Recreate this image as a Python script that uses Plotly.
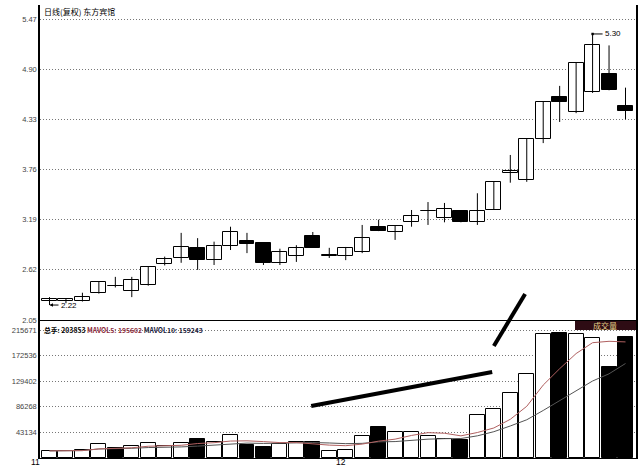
import plotly.graph_objects as go
import pandas as pd

# ---- data ----
opens  = [2.27, 2.27, 2.27, 2.36, 2.44, 2.38, 2.45, 2.69, 2.75, 2.87,
          2.73, 2.89, 2.95, 2.92, 2.70, 2.78, 3.00, 2.78, 2.78, 2.82,
          3.105, 3.05, 3.16, 3.285, 3.21, 3.29, 3.16, 3.30, 3.72, 3.64,
          4.106, 4.58, 4.41, 4.64, 4.845, 4.485]
highs  = [2.31, 2.30, 2.36, 2.49, 2.54, 2.54, 2.66, 2.77, 3.04, 2.98,
          2.94, 3.11, 3.04, 2.92, 2.86, 2.90, 3.05, 2.87, 2.88, 3.13,
          3.19, 3.12, 3.30, 3.39, 3.38, 3.29, 3.49, 3.62, 3.925, 4.11,
          4.53, 4.71, 4.97, 5.30, 5.17, 4.69]
lows   = [2.22, 2.24, 2.26, 2.35, 2.42, 2.31, 2.44, 2.67, 2.70, 2.62,
          2.675, 2.845, 2.81, 2.675, 2.675, 2.71, 2.87, 2.755, 2.73, 2.81,
          3.06, 2.96, 3.11, 3.13, 3.16, 3.16, 3.13, 3.30, 3.61, 3.62,
          4.06, 4.30, 4.40, 4.63, 4.66, 4.33]
closes = [2.29, 2.29, 2.31, 2.48, 2.435, 2.51, 2.65, 2.74, 2.88, 2.73,
          2.89, 3.05, 2.91, 2.70, 2.82, 2.87, 2.87, 2.785, 2.87, 2.98,
          3.06, 3.12, 3.23, 3.29, 3.31, 3.16, 3.29, 3.62, 3.74, 4.106,
          4.527, 4.53, 4.97, 5.175, 4.66, 4.425]
volumes = [12000, 12000, 13500, 23600, 17000, 20000, 25000, 20000, 25000, 32000,
           27000, 38700, 22000, 18500, 23600, 27000, 27000, 12500, 13500, 37000,
           52000, 43800, 43800, 37000, 32000, 30000, 72000, 82000, 110000, 141500,
           208920, 210000, 209500, 201500, 153157, 203853]

price_ticks = [5.47, 4.90, 4.33, 3.76, 3.19, 2.62, 2.05]
vol_ticks = [215671, 172536, 129402, 86268, 43134]
month_labels = ["11", "12"]
month_tick_pos = [-0.88, 17.7]

title_text = "日线(复权) 东方宾馆"
legend_total = "总手: 203853"
legend_ma5 = "MAVOL5: 195602"
legend_ma10 = "MAVOL10: 159243"
high_label = "5.30"
low_label = "2.22"

# ---- derived ----
n = len(opens)
idx = list(range(n))
ma5 = pd.Series(volumes).rolling(5, min_periods=1).mean().tolist()
ma10 = pd.Series(volumes).rolling(10, min_periods=1).mean().tolist()
up = [c >= o for o, c in zip(opens, closes)]
fill = ['white' if u else 'black' for u in up]
body_base = [min(o, c) for o, c in zip(opens, closes)]
body_h = [max(abs(c - o), 0.004) for o, c in zip(opens, closes)]

wx, wy = [], []
for i, (h, l) in enumerate(zip(highs, lows)):
    wx += [i, i, None]
    wy += [h, l, None]

W = 640; H = 468
ml, mr, mt, mb = 40, 4, 5, 10
ph = H - mt - mb
split = (H - mb - 320) / ph

fig = go.Figure()
fig.add_trace(go.Scatter(x=wx, y=wy, mode='lines', line=dict(color='black', width=1),
                         xaxis='x', yaxis='y', hoverinfo='skip', showlegend=False))
fig.add_trace(go.Bar(x=idx, y=body_h, base=body_base, width=0.91,
                     marker=dict(color=fill, line=dict(color='black', width=1)),
                     xaxis='x', yaxis='y', showlegend=False))
fig.add_trace(go.Bar(x=idx, y=volumes, width=0.91,
                     marker=dict(color=fill, line=dict(color='black', width=1)),
                     xaxis='x2', yaxis='y2', showlegend=False))
fig.add_trace(go.Scatter(x=idx, y=ma10, mode='lines', line=dict(color='#555555', width=1),
                         xaxis='x2', yaxis='y2', showlegend=False))
fig.add_trace(go.Scatter(x=idx, y=ma5, mode='lines', line=dict(color='#b06060', width=1),
                         xaxis='x2', yaxis='y2', showlegend=False))

step = 16.457
xr = [-9.5 / step, -9.5 / step + (W - ml - mr) / step]

grid_dash = '1px,2px'
tickfont = dict(family='Liberation Sans, Arial', size=7.5, color='#444444')
fig.update_layout(
    width=W, height=H, margin=dict(l=ml, r=mr, t=mt, b=mb, autoexpand=False),
    paper_bgcolor='white', plot_bgcolor='white', barmode='overlay', bargap=0,
    xaxis=dict(domain=[0, 1], range=xr, anchor='y', showticklabels=False, showgrid=False,
               zeroline=False, showline=True, linecolor='black', linewidth=1, automargin=False),
    xaxis2=dict(domain=[0, 1], range=xr, anchor='y2', matches='x', showgrid=False,
                zeroline=False, showline=True, linecolor='black', linewidth=1,
                showticklabels=False, automargin=False),
    yaxis=dict(domain=[split, 1], range=[2.05, 5.47 + 14 / 88.01], anchor='x',
               tickvals=price_ticks, ticktext=['%.2f' % v for v in price_ticks],
               showgrid=True, gridcolor='#777777', griddash=grid_dash, gridwidth=1,
               zeroline=False, showline=True, mirror=True, linecolor='black', linewidth=1.5,
               ticks='', tickfont=tickfont, automargin=False),
    yaxis2=dict(domain=[0, split], range=[0, 215671 / 128 * 138], anchor='x2',
                tickvals=vol_ticks, ticktext=[str(v) for v in vol_ticks],
                showgrid=True, gridcolor='#777777', griddash=grid_dash, gridwidth=1,
                zeroline=False, showline=True, mirror=True, linecolor='black', linewidth=1.5,
                ticks='', tickfont=tickfont, automargin=False),
)

def py(pix):
    return (H - mb - pix) / ph

def pxpaper(xval):
    return (xval - xr[0]) / (xr[1] - xr[0])

annotations = [
    dict(text=title_text, xref='paper', yref='paper', x=0.003, y=py(12), xanchor='left',
         yanchor='middle', showarrow=False,
         font=dict(family='Noto Sans CJK SC', size=8, color='black')),
    dict(text='<b>' + legend_total + ' <span style="color:#8b2a3a">' + legend_ma5 +
              '</span> <span style="color:#1a1a3a">' + legend_ma10 + '</span></b>',
         xref='paper', yref='paper', x=0.003, y=py(330), xanchor='left', yanchor='middle',
         showarrow=False, font=dict(family='Noto Sans CJK SC', size=6.8, color='black')),
    dict(text='成交量', xref='paper', yref='paper', x=(605 - ml) / (W - ml - mr), y=py(325.5),
         xanchor='center', yanchor='middle', showarrow=False,
         font=dict(family='Noto Sans CJK SC', size=8, color='#e6d28a')),
    dict(text=high_label, x=33, y=highs[33], xref='x', yref='y', showarrow=True,
         arrowhead=7, arrowsize=0.6, arrowwidth=1, arrowcolor='black', ax=10, ay=0,
         xanchor='left', yanchor='middle',
         font=dict(family='Liberation Sans, Arial', size=8, color='black')),
    dict(text=low_label, x=0, y=lows[0], xref='x', yref='y', showarrow=True,
         arrowhead=2, arrowsize=0.7, arrowwidth=1, arrowcolor='black', ax=9, ay=0,
         xanchor='left', yanchor='middle',
         font=dict(family='Liberation Sans, Arial', size=8, color='black')),
]
for lab, pos in zip(month_labels, month_tick_pos):
    annotations.append(dict(text=lab, x=pxpaper(pos), y=py(462), xref='paper', yref='paper',
                            xanchor='center', yanchor='middle', showarrow=False,
                            font=dict(family='Liberation Sans, Arial', size=8.5, color='black')))
fig.update_layout(annotations=annotations)

shapes = [
    dict(type='rect', xref='paper', yref='paper', x0=(575 - ml) / (W - ml - mr), x1=1,
         y0=py(330), y1=py(321), fillcolor='#2e0c14', line=dict(width=0), layer='above'),
    # hand-drawn trend lines
    dict(type='line', xref='x', yref='y2', x0=15.9, y0=87600, x1=26.9, y1=145000,
         line=dict(color='black', width=4)),
    dict(type='line', xref='x', yref='paper', x0=27.0, y0=py(346), x1=28.9, y1=py(294),
         line=dict(color='black', width=4)),
]
fig.update_layout(shapes=shapes)

fig.write_html("out.html", config={'displayModeBar': False},
               post_script="document.body.style.margin='0';")
